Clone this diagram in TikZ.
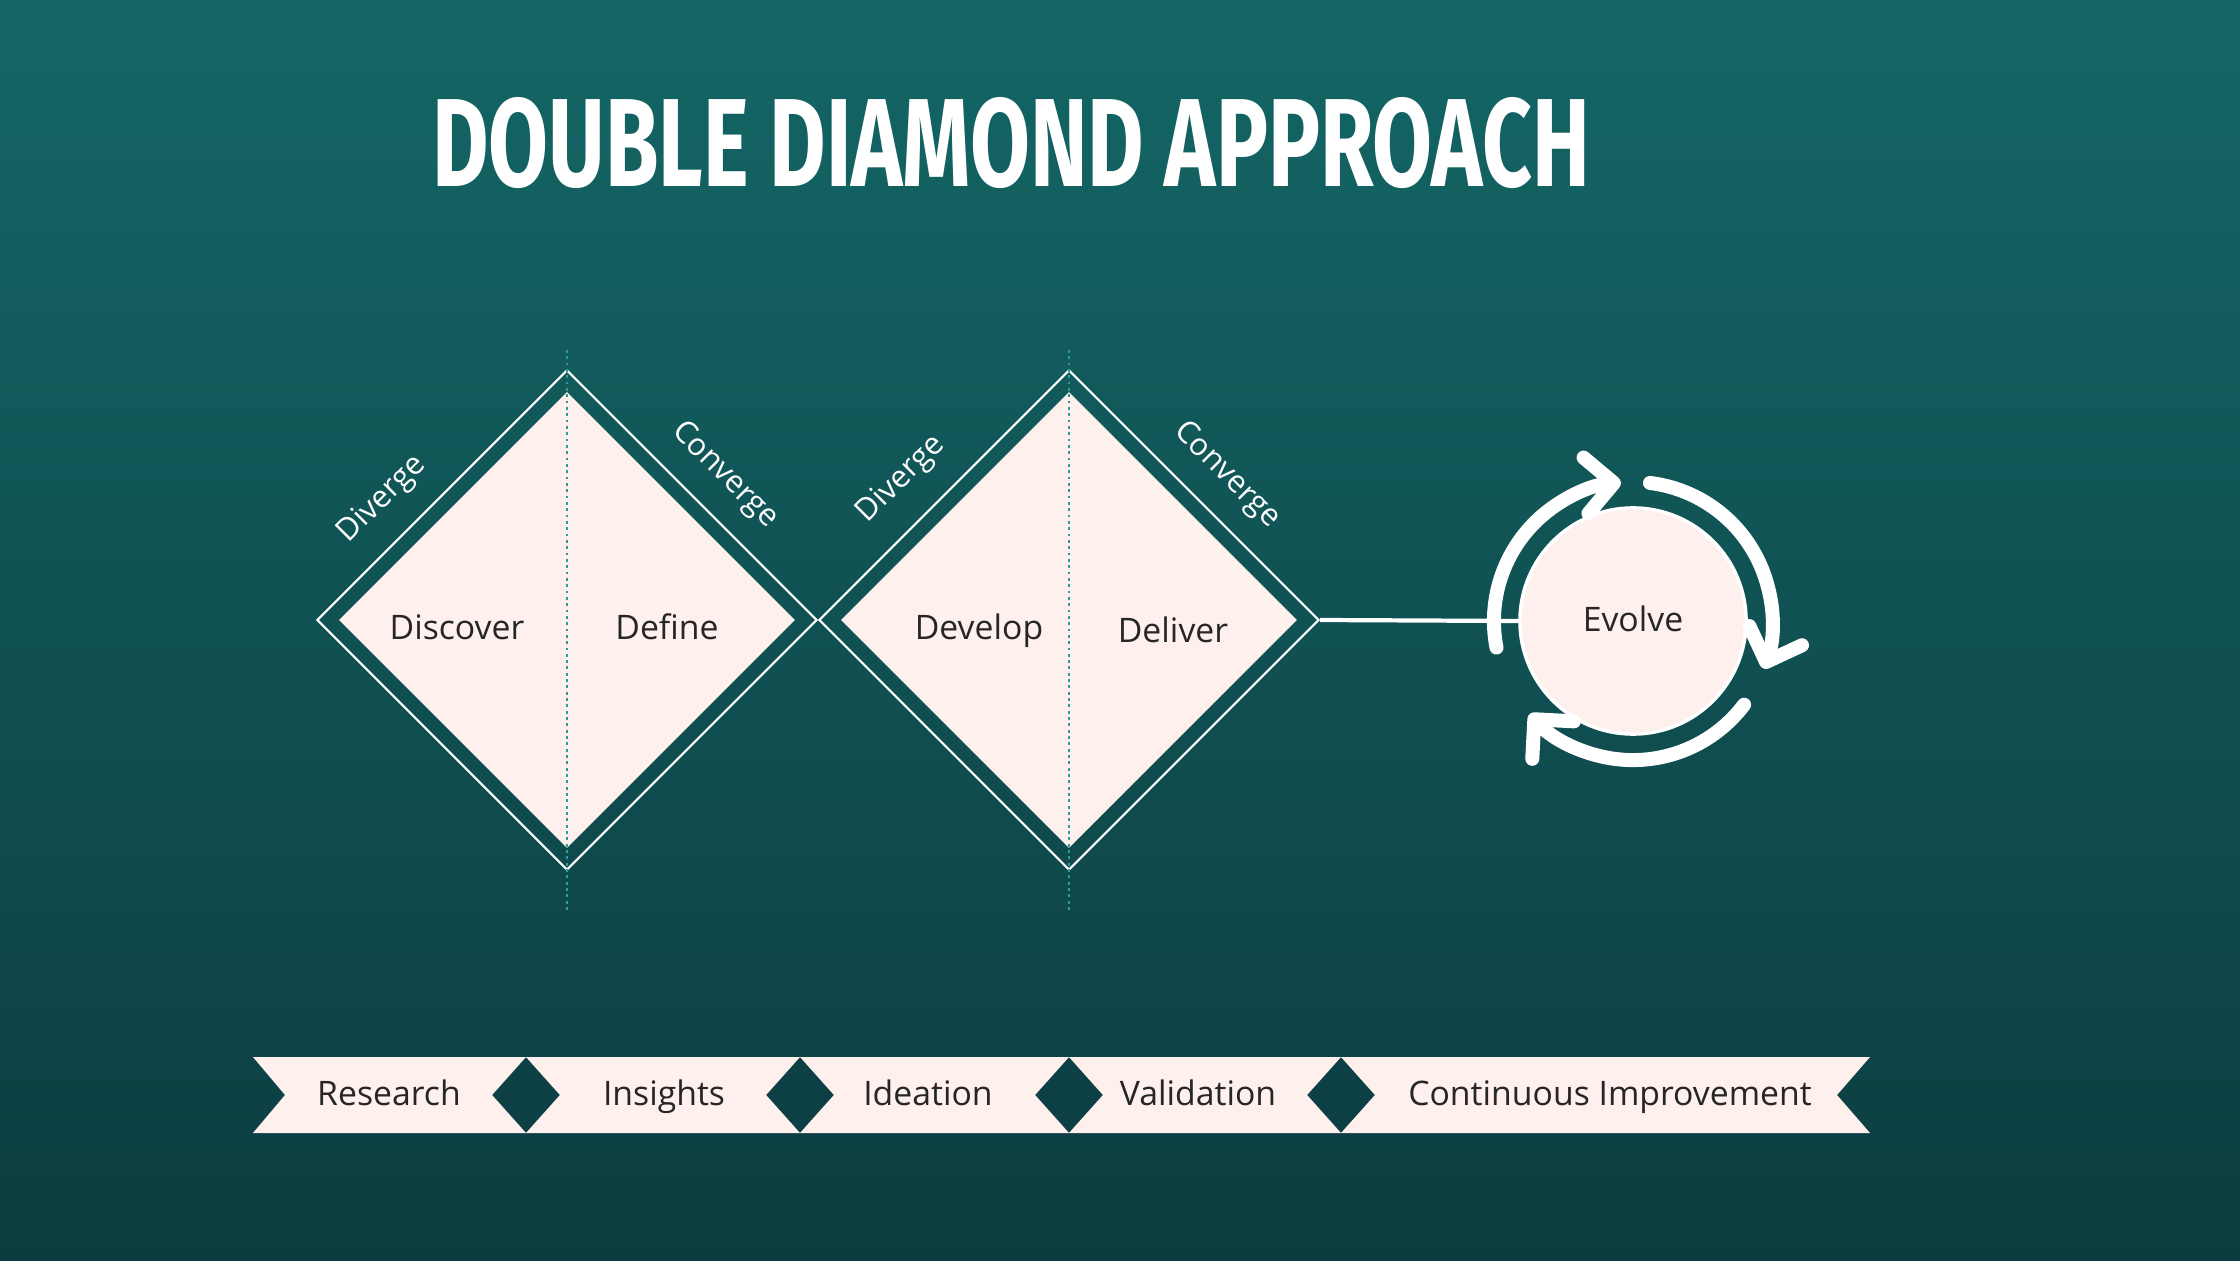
\documentclass[tikz,border=0pt]{standalone}
\usepackage{fontspec}
\setmainfont{Open Sans}
\newfontfamily\titlefont{Fira Sans}
\usetikzlibrary{shapes.geometric,arrows.meta,calc}
\definecolor{bgtop}{HTML}{146666}
\definecolor{bgbot}{HTML}{0C3C40}
\definecolor{blush}{HTML}{FDF0ED}
\definecolor{ink}{HTML}{0D4044}
\definecolor{dots}{HTML}{2A9D9A}

\begin{document}
\begin{tikzpicture}[x=0.01cm, y=0.01cm,
		outer dia/.style={diamond,draw=white,line width=0.6pt,minimum size=5cm,inner sep=0},
		inner dia/.style={diamond,fill=blush,minimum size=4.56cm,inner sep=0},
		small dia/.style={diamond,fill=ink,minimum width=0.68cm,minimum height=0.76cm,inner sep=0},
		phase/.style={font=\fontsize{9.6pt}{11pt}\selectfont,text=black!85,text height=1.6ex,text depth=0.45ex},
		side/.style={font=\fontsize{8.8pt}{10pt}\selectfont,text=white,text height=1.6ex,text depth=0.45ex},
		cycle arrow/.style={draw=white,line width=0.14cm,line cap=round,line join=round,
			-{Straight Barb[length=0.28cm,width=0.56cm,line cap=round,line join=round]}}]
	
	\shade[top color=bgtop,bottom color=bgbot] (0,0) rectangle (2240,1260);
	\useasboundingbox (0,0) rectangle (2240,1260);
	
	\node[text=white] (title) at (1011,1117) {\resizebox{11.57cm}{0.89cm}{\titlefont\bfseries DOUBLE DIAMOND APPROACH}};
	
	% the two diamonds
	\node[outer dia] (d1) at (567,640) {};
	\node[inner dia] (f1) at (567,640) {};
	\node[outer dia] (d2) at (1069,640) {};
	\node[inner dia] (f2) at (1069,640) {};
	\foreach \cx in {567,1069}
		\draw[dots,densely dotted,line width=0.8pt] (\cx,910) -- (\cx,350);
	
	\node[phase] (discover) at (457,631) {Discover};
	\node[phase] (define) at (667,631) {Define};
	\node[phase] (develop) at (979,631) {Develop};
	\node[phase] (deliver) at (1173,628) {Deliver};
	
	\node[side,rotate=45] (div1) at (380,763) {Diverge};
	\node[side,rotate=-45] (con1) at (727,787) {Converge};
	\node[side,rotate=45] (div2) at (899,783) {Diverge};
	\node[side,rotate=-45] (con2) at (1229,787) {Converge};
	
	% evolve loop
	\node[circle,fill=blush,draw=white,line width=1pt,minimum size=2.26cm,phase] (evolve) at (1633,639) {Evolve};
	\draw[white,line width=1.2pt] (d2.east) -- (evolve.west);
	\draw[cycle arrow] ($(evolve)+(191:1.39cm)$) arc[start angle=191,end angle=95,radius=1.39cm];
	\draw[cycle arrow] ($(evolve)+(83:1.39cm)$) arc[start angle=83,end angle=-20,radius=1.39cm];
	\draw[cycle arrow] ($(evolve)+(-37:1.39cm)$) arc[start angle=-37,end angle=-138,radius=1.39cm];
	
	% ribbon
	\fill[blush] (253,203) -- (1870,203) -- (1837,165) -- (1870,127) -- (253,127) -- (285,165) -- cycle;
	\foreach \sx/\nm in {526/s1,800/s2,1069/s3,1341/s4}
		\node[small dia] (\nm) at (\sx,165) {};
	\node[phase] (research) at (389,165) {Research};
	\node[phase] (insights) at (664,165) {Insights};
	\node[phase] (ideation) at (928,165) {Ideation};
	\node[phase] (validation) at (1198,165) {Validation};
	\node[phase] (improve) at (1610,165) {Continuous Improvement};
	
\end{tikzpicture}
\end{document}
